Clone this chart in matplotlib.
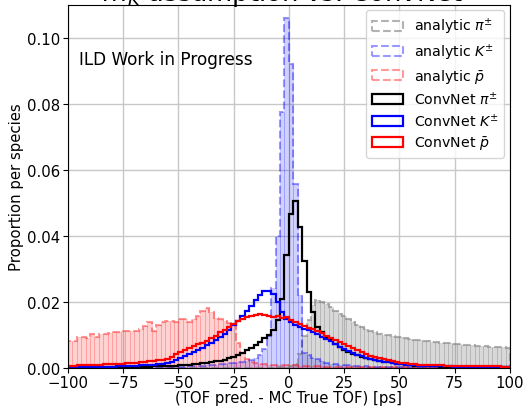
import numpy as np
import matplotlib.pyplot as plt

# 2 ps bins over the plotted window
edges = np.linspace(-100, 100, 101)
centers = 0.5 * (edges[:-1] + edges[1:])

# analytic TOF estimate (mass hypothesis), proportion per bin
ana_pi = [0.0] * 47 + [0.0001, 0.0002, 0.0003,
          0.0005, 0.0012, 0.004, 0.0095, 0.0145, 0.019, 0.0205, 0.02, 0.0192, 0.0182,
          0.0172, 0.0163, 0.0155, 0.0146, 0.0138, 0.013, 0.0123, 0.0117, 0.0112, 0.0107,
          0.0103, 0.01, 0.0098, 0.0096, 0.0093, 0.0091, 0.0088, 0.0086, 0.0084, 0.0083,
          0.0081, 0.008, 0.0078, 0.0077, 0.0075, 0.0074, 0.0073, 0.0071, 0.007, 0.0069,
          0.0068, 0.0067, 0.0066, 0.0065, 0.0064, 0.0063, 0.0062, 0.0061, 0.0061, 0.006]
ana_k = [0.0001] * 25 + [0.0003, 0.0003, 0.0004, 0.0004, 0.0005,
         0.0006, 0.0007, 0.0008, 0.0009, 0.001, 0.0011, 0.0013, 0.0015, 0.0016, 0.0018,
         0.002, 0.0022, 0.0028, 0.0038, 0.0056, 0.0096, 0.024, 0.040, 0.0775, 0.106,
         0.092, 0.0556, 0.022, 0.0045, 0.0038, 0.003, 0.0025, 0.002, 0.0015, 0.0012,
         0.001, 0.0009, 0.0008, 0.0007, 0.0006, 0.0005, 0.0004, 0.0004, 0.0003, 0.0003] \
    + [0.0002] * 10 + [0.0001] * 20
ana_p = [0.0081, 0.0081, 0.0092, 0.0092, 0.009, 0.0101, 0.0092, 0.0101, 0.0101, 0.0104,
         0.0107, 0.0107, 0.0112, 0.011, 0.0112, 0.0112, 0.0116, 0.0127, 0.0137, 0.0112,
         0.013, 0.0137, 0.0142, 0.0142, 0.0137, 0.0147, 0.0147, 0.0137, 0.0147, 0.0155,
         0.0172, 0.018, 0.0168, 0.015, 0.0147, 0.0142, 0.0135, 0.0132, 0.0075, 0.0045,
         0.0025, 0.0018, 0.0014, 0.0012, 0.001, 0.0009, 0.0009, 0.0008, 0.0008, 0.0008,
         0.0007, 0.0007, 0.0006, 0.0006, 0.0005, 0.0005, 0.0004, 0.0004, 0.0003, 0.0003] \
    + [0.0002] * 10 + [0.0001] * 30

# ConvNet prediction
cnn_pi = [0.0001] * 8 + [0.0002] * 6 + [0.0003] * 5 + [0.0004,
          0.0004, 0.0004, 0.0005, 0.0005, 0.0006, 0.0007, 0.0008, 0.0009, 0.001, 0.0012,
          0.0013, 0.0015, 0.0017, 0.0019, 0.0021, 0.0024, 0.0028, 0.0032, 0.0038, 0.0045,
          0.0053, 0.006, 0.0068, 0.0078, 0.0088, 0.0098, 0.0115, 0.0145, 0.0207, 0.034,
          0.0465, 0.0505, 0.0425, 0.0324, 0.0228, 0.0167, 0.0122, 0.0108, 0.0094, 0.0082,
          0.0071, 0.0062, 0.0054, 0.0047, 0.0041, 0.0037, 0.0033, 0.0029, 0.0026, 0.0023,
          0.0021, 0.0018, 0.0016, 0.0014, 0.0012, 0.001, 0.0009, 0.0007, 0.0006, 0.0005,
          0.0005, 0.0004, 0.0004, 0.0004, 0.0003, 0.0003, 0.0003, 0.0003, 0.0002, 0.0002,
          0.0002, 0.0002, 0.0002, 0.0002, 0.0001, 0.0001, 0.0001, 0.0001, 0.0001, 0.0001]
cnn_k = [0.0002] * 5 + [0.0003] * 5 + [
         0.0003, 0.0004, 0.0004, 0.0005, 0.0005, 0.0006, 0.0007, 0.0007, 0.0008, 0.0009,
         0.001, 0.0012, 0.0014, 0.0018, 0.0022, 0.0028, 0.0034, 0.004, 0.0047, 0.0054,
         0.006, 0.0067, 0.0075, 0.0083, 0.0092, 0.0102, 0.0115, 0.0128, 0.0142, 0.0157,
         0.0172, 0.0187, 0.0205, 0.022, 0.0232, 0.0233, 0.0222, 0.0198, 0.0167, 0.0147,
         0.0138, 0.013, 0.0124, 0.0118, 0.0113, 0.0108, 0.0102, 0.0094, 0.0087, 0.0079,
         0.0071, 0.0063, 0.0056, 0.0049, 0.0043, 0.0038, 0.0034, 0.003, 0.0027, 0.0024,
         0.0021, 0.0018, 0.0016, 0.0014, 0.0012, 0.001, 0.0009, 0.0008, 0.0007, 0.0006,
         0.0006, 0.0005, 0.0005, 0.0005, 0.0004, 0.0004, 0.0004, 0.0003, 0.0003, 0.0003,
         0.0003, 0.0003] + [0.0002] * 8
cnn_p = [0.0006, 0.0006, 0.0007, 0.0007, 0.0008, 0.0008, 0.0009, 0.0009, 0.001, 0.001,
         0.0011, 0.0011, 0.0012, 0.0013, 0.0014, 0.0015, 0.0016, 0.0018, 0.002, 0.0021,
         0.0022, 0.0024, 0.0027, 0.0032, 0.004, 0.0048, 0.0053, 0.0058, 0.0065, 0.0071,
         0.0075, 0.008, 0.0088, 0.0097, 0.0108, 0.0115, 0.0123, 0.0133, 0.0142, 0.0148,
         0.0153, 0.0157, 0.0159, 0.0162, 0.0158, 0.0155, 0.0152, 0.0155, 0.0151, 0.0154,
         0.0145, 0.0138, 0.0131, 0.0126, 0.012, 0.0117, 0.0112, 0.0104, 0.0097, 0.009,
         0.0083, 0.0077, 0.007, 0.0064, 0.0058, 0.0052, 0.0046, 0.0042, 0.0036, 0.0032,
         0.0029, 0.0025, 0.0022, 0.002, 0.0018, 0.0015, 0.0013, 0.0011, 0.001, 0.0009,
         0.0008, 0.0008, 0.0007, 0.0007, 0.0007, 0.0006, 0.0006, 0.0006, 0.0005, 0.0005,
         0.0005, 0.0005, 0.0005, 0.0004, 0.0004, 0.0004, 0.0004, 0.0004, 0.0003, 0.0003]

species = [r'$\pi^{\pm}$', r'$K^{\pm}$', r'$\bar{p}$']
colors = ['grey', 'blue', 'red']
fill_alpha = [0.3, 0.18, 0.18]
line_alpha = [0.6, 0.4, 0.4]

fig = plt.figure(figsize=(5.27, 4.10), dpi=100)
ax = fig.add_axes([0.1287, 0.1012, 0.8390, 0.8848])
ax.grid(True, color='#c8c8c8', linewidth=1.0)
ax.set_axisbelow(True)

for vals, name, c, fa, la in zip([ana_pi, ana_k, ana_p], species, colors,
                                  fill_alpha, line_alpha):
    ax.hist(centers, bins=edges, weights=vals, histtype='bar', color=c,
            alpha=fa, edgecolor=c, linewidth=0.5)
    ax.hist(centers, bins=edges, weights=vals, histtype='step', color=c,
            alpha=la, linestyle='--', linewidth=1.5, label='analytic ' + name)

for vals, name, c in zip([cnn_pi, cnn_k, cnn_p], species, ['black', 'blue', 'red']):
    ax.hist(centers, bins=edges, weights=vals, histtype='step', color=c,
            linewidth=1.6, label='ConvNet ' + name)

ax.set_xlim(-100, 100)
ax.set_ylim(0, 0.11)
ax.set_xticks([-100, -75, -50, -25, 0, 25, 50, 75, 100])
ax.set_yticks([0.0, 0.02, 0.04, 0.06, 0.08, 0.10])
ax.tick_params(labelsize=10.7, pad=2)
ax.set_xlabel('(TOF pred. - MC True TOF) [ps]', fontsize=10.7, labelpad=0)
ax.set_ylabel('Proportion per species', fontsize=10.7, labelpad=2)
ax.text(0.025, 0.838, 'ILD Work in Progress', transform=ax.transAxes, fontsize=12.2)
ax.legend(loc='upper right', fontsize=10.2, borderaxespad=0.4, labelspacing=0.35,
          handlelength=2.2)

fig.text(0.535, 0.997, r'$m_K$ assumption vs. ConvNet', ha='center', va='baseline',
         fontsize=18.5)

fig.savefig('out.png', dpi=100)
